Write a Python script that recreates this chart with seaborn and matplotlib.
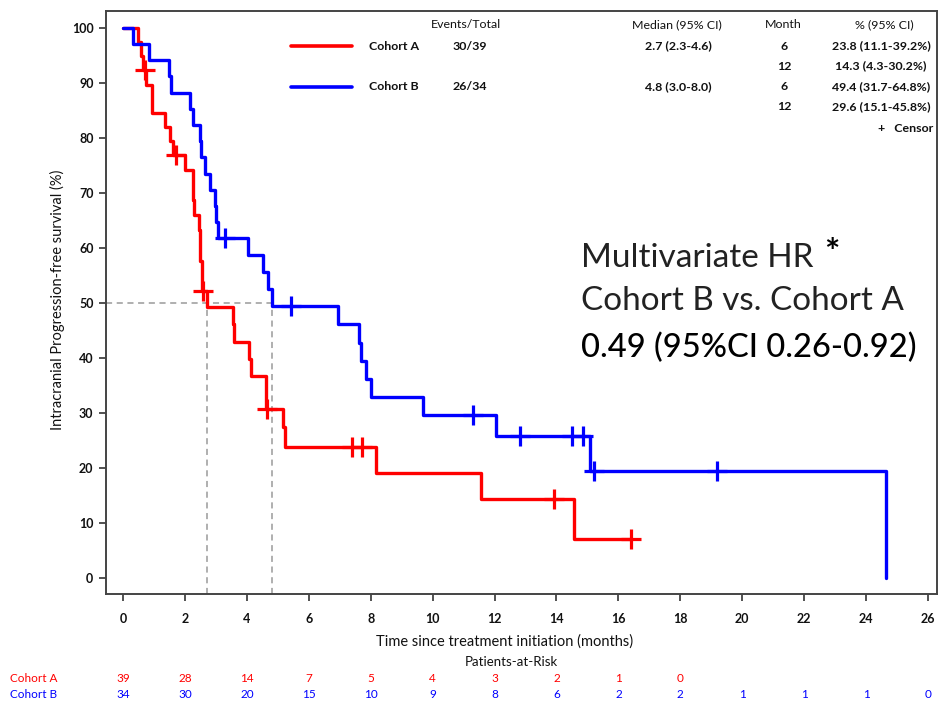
import numpy as np
import matplotlib
matplotlib.use("Agg")
import matplotlib.pyplot as plt
import seaborn as sns
from matplotlib.lines import Line2D

# ---------------- data ----------------
red_times = [0, 0.49, 0.58, 0.64, 0.73, 0.93, 1.36, 1.52, 1.63, 2.00, 2.25, 2.30, 2.46, 2.49,
             2.54, 2.70, 3.54, 3.58, 4.08, 4.13, 4.62, 5.18, 5.23, 8.17, 11.56, 14.57, 16.45]
red_surv = [100, 97.4, 94.9, 92.3, 89.7, 84.6, 82.0, 79.5, 76.9, 74.2, 68.7, 66.0, 63.2, 57.7,
            52.2, 49.2, 46.1, 43.0, 39.9, 36.8, 30.7, 27.4, 23.8, 19.1, 14.3, 7.1, 7.1]
red_censor_t = [0.70, 1.70, 2.59, 4.64, 7.41, 7.73, 13.92, 16.41]

blue_times = [0, 0.31, 0.85, 1.47, 1.55, 2.16, 2.25, 2.49, 2.51, 2.65, 2.81, 2.97, 2.99, 3.08,
              4.05, 4.53, 4.69, 4.80, 6.95, 7.63, 7.69, 7.85, 8.01, 9.68, 12.05, 15.08, 24.64]
blue_surv = [100, 97.1, 94.1, 91.2, 88.2, 85.3, 82.4, 79.4, 76.5, 73.5, 70.6, 67.6, 64.7, 61.8,
             58.7, 55.6, 52.5, 49.4, 46.1, 42.8, 39.5, 36.2, 32.9, 29.6, 25.9, 19.5, 0]
blue_censor_t = [3.29, 5.42, 11.32, 12.82, 14.49, 14.85, 15.21, 19.17]

medians = [2.7, 4.8]

risk_months = list(range(0, 27, 2))
risk_a = [39, 28, 14, 7, 5, 4, 3, 2, 1, 0]
risk_b = [34, 30, 20, 15, 10, 9, 8, 6, 2, 2, 1, 1, 1, 0]

cohorts = ["Cohort A", "Cohort B"]
tbl_headers = ["Events/Total", "Median (95% CI)", "Month", "% (95% CI)"]
events_total = ["30/39", "26/34"]
median_ci = ["2.7 (2.3-4.6)", "4.8 (3.0-8.0)"]
landmark_month = ["6", "12"]
landmark_a = ["23.8 (11.1-39.2%)", "14.3 (4.3-30.2%)"]
landmark_b = ["49.4 (31.7-64.8%)", "29.6 (15.1-45.8%)"]

x_label = "Time since treatment initiation (months)"
y_label = "Intracranial Progression-free survival (%)"
risk_title = "Patients-at-Risk"
hr_lines = ["Multivariate HR", "Cohort B vs. Cohort A", "0.49 (95%CI 0.26-0.92)"]

RED = "#ff0000"
BLUE = "#0000ff"

# ---------------- style ----------------
sns.set_theme(style="white")
plt.rcParams["font.family"] = ["Lato", "DejaVu Sans"]

W, H = 939, 701
fig = plt.figure(figsize=(W / 100, H / 100), dpi=100)


def fx(px):
    return px / W


def fy(py):
    return 1 - py / H


ax_l, ax_r, ax_t, ax_b = 106, 937, 11, 594
ax = fig.add_axes([fx(ax_l), fy(ax_b), (ax_r - ax_l) / W, (ax_b - ax_t) / H])

ppm = (928 - 123) / 26.0      # pixels per month
ppp = (578 - 28) / 100.0      # pixels per percent
ax.set_xlim(-(123 - ax_l) / ppm, 26 + (ax_r - 928) / ppm)
ax.set_ylim(-(ax_b - 578) / ppp, 100 + (28 - ax_t) / ppp)


def surv_at(times, surv, t):
    idx = np.searchsorted(np.asarray(times), np.asarray(t), side="right") - 1
    return np.asarray(surv)[idx]


# median reference lines
ax.hlines(50, ax.get_xlim()[0], max(medians), colors="#9a9a9a", linestyles=(0, (4, 3)), lw=1.1, zorder=1)
ax.vlines(medians, ax.get_ylim()[0], 50, colors="#9a9a9a", linestyles=(0, (4, 3)), lw=1.1, zorder=1)

sns.lineplot(x=red_times, y=red_surv, drawstyle="steps-post", color=RED, lw=2.4,
             estimator=None, sort=False, ax=ax, zorder=2)
sns.lineplot(x=blue_times, y=blue_surv, drawstyle="steps-post", color=BLUE, lw=2.4,
             estimator=None, sort=False, ax=ax, zorder=2)

sns.scatterplot(x=red_censor_t, y=surv_at(red_times, red_surv, red_censor_t), marker="+",
                s=200, color=RED, linewidth=2.3, ax=ax, zorder=3)
sns.scatterplot(x=blue_censor_t, y=surv_at(blue_times, blue_surv, blue_censor_t), marker="+",
                s=200, color=BLUE, linewidth=2.3, ax=ax, zorder=3)

ax.set_xticks(risk_months)
ax.set_yticks(range(0, 101, 10))
ax.set_xlabel("")
ax.set_ylabel("")
ax.tick_params(axis="both", direction="out", length=5, width=1.2, color="#333333",
               labelsize=9, labelcolor="#111111", left=True, bottom=True)
ax.tick_params(axis="x", pad=9)
ax.tick_params(axis="y", pad=4)
for lab in ax.get_xticklabels() + ax.get_yticklabels():
    lab.set_fontweight("bold")
for sp in ax.spines.values():
    sp.set_visible(True)
    sp.set_color("#444444")
    sp.set_linewidth(1.4)
ax.grid(False)

# axis labels
fig.text(fx(505), fy(642), x_label, ha="center", va="center", fontsize=10.5, color="#111111")
fig.text(fx(57), fy(300), y_label, ha="center", va="center", rotation=90, fontsize=10.5, color="#111111")

# ---------------- legend table ----------------
tsize = 8.9
hy = 25
head_x = [466, 677, 783, 884]
for hx, h in zip(head_x, tbl_headers):
    fig.text(fx(hx), fy(hy), h, ha="center", va="center", fontsize=tsize, color="#111111")

row_y = [46, 87]
sub_y = [[46, 66], [87, 107]]
colors = [RED, BLUE]
lm_vals = [landmark_a, landmark_b]
for i in range(2):
    fig.add_artist(Line2D([fx(291), fx(352)], [fy(row_y[i])] * 2, color=colors[i], lw=2.6,
                          transform=fig.transFigure))
    fig.text(fx(394), fy(row_y[i]), cohorts[i], ha="center", va="center", fontsize=tsize,
             fontweight="bold", color="#111111")
    fig.text(fx(470), fy(row_y[i]), events_total[i], ha="center", va="center", fontsize=tsize,
             fontweight="bold", color="#111111")
    fig.text(fx(678), fy(row_y[i]), median_ci[i], ha="center", va="center", fontsize=tsize,
             fontweight="bold", color="#111111")
    for j in range(2):
        fig.text(fx(784), fy(sub_y[i][j]), landmark_month[j], ha="center", va="center",
                 fontsize=tsize, fontweight="bold", color="#111111")
        fig.text(fx(881), fy(sub_y[i][j]), lm_vals[i][j], ha="center", va="center",
                 fontsize=tsize, fontweight="bold", color="#111111")
fig.text(fx(933), fy(128), "+   Censor", ha="right", va="center", fontsize=tsize,
         fontweight="bold", color="#111111")

# ---------------- HR annotation ----------------
hr_y = [258, 301, 348]
hr_w = [232, 321, 335]
hr_weights = ["normal", "normal", "medium"]
hr_colors = ["#222222", "#222222", "#000000"]
renderer = fig.canvas.get_renderer()
for s, y, w, wt, c in zip(hr_lines, hr_y, hr_w, hr_weights, hr_colors):
    t = fig.text(fx(581), fy(y), s, ha="left", va="center", fontsize=22, fontweight=wt, color=c)
    bw = t.get_window_extent(renderer).width
    t.set_fontsize(22 * w / bw)
fig.text(fx(832), fy(254), "*", ha="center", va="center", fontsize=26, fontweight="bold", color="#000000")

# ---------------- patients at risk ----------------
fig.text(fx(511), fy(662), risk_title, ha="center", va="center", fontsize=9.5, color="#111111")
to_px = lambda m: ax.transData.transform((m, 0))[0]
for i, (vals, ypx) in enumerate([(risk_a, 679), (risk_b, 694)]):
    fig.text(fx(10), fy(ypx), cohorts[i], ha="left", va="center", fontsize=8.5, color=colors[i])
    for m, v in zip(risk_months, vals):
        fig.text(to_px(m) / W, fy(ypx), str(v), ha="center", va="center", fontsize=8.5,
                 color=colors[i])

fig.savefig("out.png", dpi=100)
